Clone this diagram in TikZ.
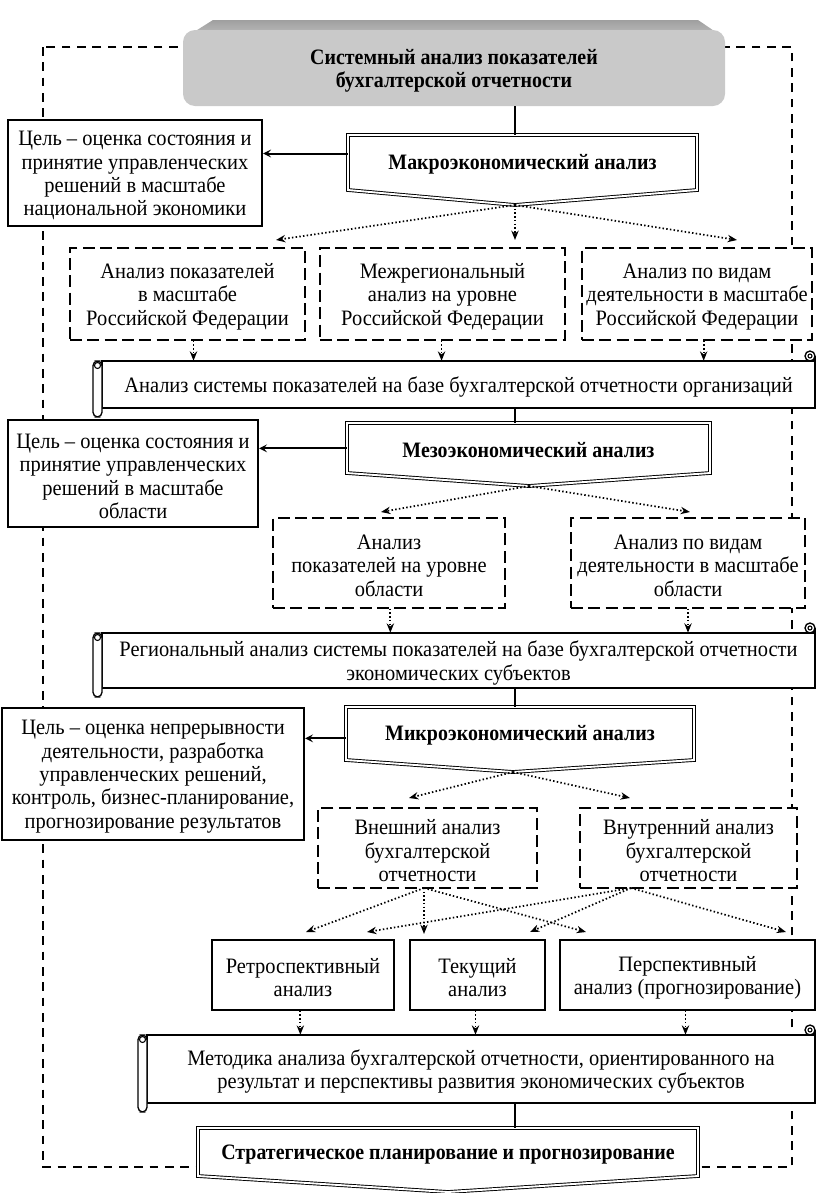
\documentclass[tikz,border=0pt]{standalone}
\usepackage{fontspec}
\setmainfont{Liberation Serif}[FakeStretch=0.93, BoldFeatures={FakeStretch=0.905}]
\usetikzlibrary{arrows.meta,fit,calc}
\begin{document}
\begin{tikzpicture}[x=0.75pt,y=-0.75pt,
  txt/.style={font=\fontsize{16.5}{17.6}\selectfont, align=center, inner sep=0pt},
  bftxt/.style={font=\fontsize{16.5}{17.6}\selectfont\bfseries, align=center, inner sep=0pt},
  box/.style={fit={#1}, inner sep=0pt},
  goal/.style={draw, line width=1.7pt, fill=white},
  dbox/.style={draw, line width=1.1pt, dash pattern=on 9pt off 4pt, fill=white},
  sbox/.style={draw, line width=0.9pt, fill=white},
  frame/.style={line width=1pt, dash pattern=on 6.5pt off 5pt},
  dbl/.style={draw=black, line width=0.7pt, double=white, double distance=1.4pt, fill=white, line join=miter},
  conn/.style={line width=1.5pt},
  sarrow/.style={line width=1.5pt, -{Stealth[length=6pt,width=6pt,inset=2.5pt]}},
  darrow/.style={line width=1.3pt, dash pattern=on 1.1pt off 1.7pt, -{Stealth[length=7pt,width=5.5pt]}},
  scr/.style={line width=1pt, draw=black, fill=white}
]
\useasboundingbox (0,0) rectangle (817,1193);
\newcommand{\myscroll}[4]{%
  \draw[scr] (#1+9,#2) rectangle (#3,#4);
  \draw[scr] (#3,#4) -- (#3,#2-5);
  \draw[scr] (#3-5,#2-5) circle (5);
  \draw[line width=0.8pt] (#3-5,#2-5) circle (2);
  \draw[scr, rounded corners=3.5pt] (#1,#2) rectangle (#1+9,#4+9);
  \draw[line width=0.8pt] (#1+4.5,#2+4.5) circle (3);
}
\newcommand{\btext}[3][txt]{\node[#1, yshift=-2pt] (#2-t) at (#2.center) {#3};}
% outer dashed frame
\draw[frame] (43,47) rectangle (792,1167);
% top 3D box
\shade[top color=gray!75, bottom color=gray!50] (186,37) -- (213,20) -- (698,20) -- (723,37) -- cycle;
\node[box={(183,30) (725,106)}, fill=gray!42, rounded corners=9pt] (top) {};
\btext[bftxt]{top}{Системный анализ показателей\\бухгалтерской отчетности}
\coordinate (xc) at (515,0);
% ---------- Macro ----------
\path[dbl] (348,135) -- (697,135) -- (697,190) -- (515,205) -- (348,190) -- cycle;
\node[box={(348,135) (697,188)}] (macro) {};
\btext[bftxt]{macro}{Макроэкономический анализ}
\coordinate (macrotip) at (515,205);
\draw[conn] (top.south -| xc) -- (macro.north -| xc);
\node[box={(8,120) (262,226)}, goal] (goal1) {};
\btext{goal1}{Цель – оценка состояния и\\принятие управленческих\\решений в масштабе\\национальной экономики}
\draw[sarrow] ([yshift=6pt]macro.west) -- ([yshift=6pt]macro.west -| goal1.east);
\node[box={(70,248) (305,340)}, dbox] (b1) {};
\btext{b1}{Анализ показателей\\в масштабе\\Российской Федерации}
\node[box={(320,248) (565,340)}, dbox] (b2) {};
\btext{b2}{Межрегиональный\\анализ на уровне\\Российской Федерации}
\node[box={(582,248) (812,340)}, dbox] (b3) {};
\btext{b3}{Анализ по видам\\деятельности в масштабе\\Российской Федерации}
\coordinate (a1) at (276,240);
\coordinate (a2) at (515,240);
\coordinate (a3) at (737,240);
\draw[darrow] (macrotip) -- (a1);
\draw[darrow] (macrotip) -- (a2);
\draw[darrow] (macrotip) -- (a3);
% scroll 1
\myscroll{93}{361}{815}{408}
\node[box={(102,361) (815,408)}] (s1) {};
\btext{s1}{Анализ системы показателей на базе бухгалтерской отчетности организаций}
\draw[darrow] ([xshift=4.5pt]b1.south) -- ([xshift=4.5pt]b1.south |- s1.north);
\draw[darrow] ([xshift=-0.7pt]b2.south) -- ([xshift=-0.7pt]b2.south |- s1.north);
\draw[darrow] ([xshift=5pt]b3.south) -- ([xshift=5pt]b3.south |- s1.north);
% ---------- Meso ----------
\path[dbl] (347,423) -- (710,423) -- (710,473) -- (529,486) -- (347,473) -- cycle;
\node[box={(347,423) (710,471)}] (meso) {};
\btext[bftxt]{meso}{Мезоэкономический анализ}
\coordinate (mesotip) at (529,486);
\draw[conn] (s1.south -| xc) -- (meso.north -| xc);
\node[box={(8,420) (258,527)}, goal] (goal2) {};
\btext{goal2}{Цель – оценка состояния и\\принятие управленческих\\решений в масштабе\\области}
\draw[sarrow] ([yshift=-1pt]meso.west) -- ([yshift=-1pt]meso.west -| goal2.east);
\node[box={(273,518) (505,608)}, dbox] (c1) {};
\btext{c1}{Анализ\\показателей на уровне\\области}
\node[box={(571,518) (805,608)}, dbox] (c2) {};
\btext{c2}{Анализ по видам\\деятельности в масштабе\\области}
\coordinate (m1) at (381,512);
\coordinate (m2) at (690,512);
\draw[darrow] (mesotip) -- (m1);
\draw[darrow] (mesotip) -- (m2);
% scroll 2
\myscroll{93}{633}{815}{688}
\node[box={(102,633) (815,688)}] (s2) {};
\btext{s2}{Региональный анализ системы показателей на базе бухгалтерской отчетности\\экономических субъектов}
\draw[darrow] ([xshift=1pt]c1.south) -- ([xshift=1pt]c1.south |- s2.north);
\draw[darrow] ([xshift=0pt]c2.south) -- ([xshift=0pt]c2.south |- s2.north);
% ---------- Micro ----------
\path[dbl] (346,707) -- (694,707) -- (694,760) -- (513,772) -- (346,760) -- cycle;
\node[box={(346,707) (694,759)}] (micro) {};
\btext[bftxt]{micro}{Микроэкономический анализ}
\coordinate (microtip) at (513,772);
\draw[conn] (s2.south -| xc) -- (micro.north -| xc);
\node[box={(2,708) (304,840)}, goal] (goal3) {};
\btext{goal3}{Цель – оценка непрерывности\\деятельности, разработка\\управленческих решений,\\контроль, бизнес-планирование,\\прогнозирование результатов}
\draw[sarrow] ([yshift=-4pt]micro.west) -- ([yshift=-4pt]micro.west -| goal3.east);
\node[box={(318,808) (537,888)}, dbox] (e1) {};
\btext{e1}{Внешний анализ\\бухгалтерской\\отчетности}
\node[box={(580,808) (797,888)}, dbox] (e2) {};
\btext{e2}{Внутренний анализ\\бухгалтерской\\отчетности}
\coordinate (n1) at (409,798);
\coordinate (n2) at (630,798);
\draw[darrow] (microtip) -- (n1);
\draw[darrow] (microtip) -- (n2);
% row 3
\node[box={(212,940) (394,1010)}, sbox] (r1) {};
\btext{r1}{Ретроспективный\\анализ}
\node[box={(410,940) (545,1010)}, sbox] (r2) {};
\btext{r2}{Текущий\\анализ}
\node[box={(560,940) (815,1010)}, sbox] (r3) {};
\btext{r3}{Перспективный\\анализ (прогнозирование)}
\coordinate (o1) at (424,888);
\coordinate (o2) at (631,888);
\coordinate (p1) at (306,932);
\coordinate (p2) at (424,934);
\coordinate (p3) at (586,932);
\coordinate (q1) at (367,932);
\coordinate (q2) at (530,932);
\coordinate (q3) at (786,932);
\draw[darrow] (o1) -- (p1);
\draw[darrow] (o1) -- (p2);
\draw[darrow] (o1) -- (p3);
\draw[darrow] (o2) -- (q1);
\draw[darrow] (o2) -- (q2);
\draw[darrow] (o2) -- (q3);
% scroll 3
\myscroll{138}{1035}{815}{1103}
\node[box={(147,1035) (815,1103)}] (s3) {};
\btext{s3}{Методика анализа бухгалтерской отчетности, ориентированного на\\результат и перспективы развития экономических субъектов}
\draw[darrow] ([xshift=-2pt]r1.south) -- ([xshift=-2pt]r1.south |- s3.north);
\draw[darrow] ([xshift=-1.5pt]r2.south) -- ([xshift=-1.5pt]r2.south |- s3.north);
\draw[darrow] ([xshift=-1.5pt]r3.south) -- ([xshift=-1.5pt]r3.south |- s3.north);
% ---------- Strategic ----------
\path[dbl] (198,1128) -- (698,1128) -- (698,1176) -- (448,1192) -- (198,1176) -- cycle;
\node[box={(198,1128) (698,1176)}] (strat) {};
\btext[bftxt]{strat}{Стратегическое планирование и прогнозирование}
\draw[conn] (s3.south -| xc) -- (strat.north -| xc);
\end{tikzpicture}
\end{document}
